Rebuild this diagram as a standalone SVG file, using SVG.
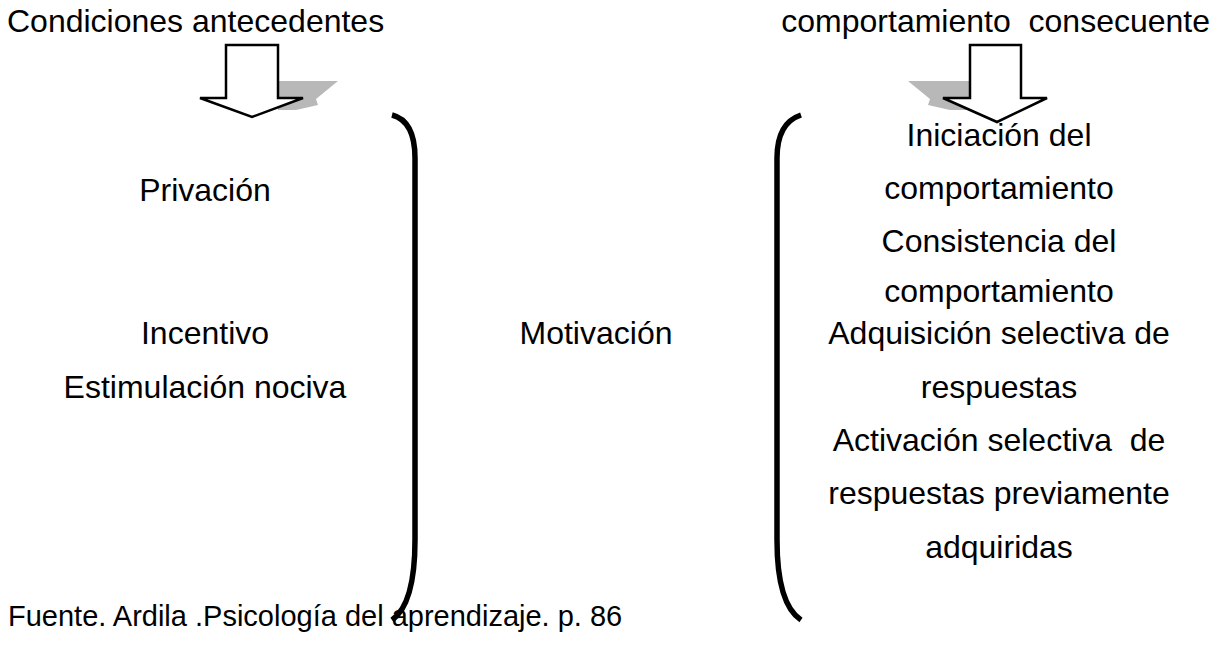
<svg xmlns="http://www.w3.org/2000/svg" width="1217" height="645" viewBox="0 0 1217 645">
<style>
text{font-family:"Liberation Sans",Arial,sans-serif;font-size:32px;fill:#000}
.c{text-anchor:middle}
.src{font-size:29px}
.arrow{fill:#fff;stroke:#000;stroke-width:2.5;stroke-linejoin:miter}
.shadow{fill:#b8b8b8}
.br{fill:none;stroke:#000;stroke-width:5.5;stroke-linecap:butt}
</style>
<rect width="1217" height="645" fill="#fff"/>
<g id="title-left"><text x="7" y="32">Condiciones antecedentes</text></g>
<g id="title-right"><text x="1210" y="32" text-anchor="end" xml:space="preserve">comportamiento  consecuente</text></g>
<g id="connectors">
<g id="arrow-left">
<polygon class="shadow" points="278,81 338,81 316,99 318,105 296,110 278,110"/>
<polygon class="arrow" points="226,45 278,45 278,98 303,98 252,117 200,98 226,98"/>
</g>
<g id="arrow-right">
<polygon class="shadow" points="971,81 908,81 930,99 928,105 950,110 971,110"/>
<polygon class="arrow" points="970,45 1021,45 1021,98 1047,98 997,122 943,98 970,98"/>
</g>
<path id="bracket-left" class="br" d="M392,115 Q415,121 415,158 L415,540 Q415,604 392,620"/>
<path id="bracket-right" class="br" d="M801,115 Q777,123 777,158 L777,540 Q777,604 801,620"/>
</g>
<g id="antecedents">
<text class="c" x="205" y="201">Privación</text>
<text class="c" x="205" y="344">Incentivo</text>
<text class="c" x="205" y="398">Estimulación nociva</text>
</g>
<g id="motivacion"><text class="c" x="596" y="344">Motivación</text></g>
<g id="consequences">
<text class="c" x="999" y="146">Iniciación del</text>
<text class="c" x="999" y="199">comportamiento</text>
<text class="c" x="999" y="252">Consistencia del</text>
<text class="c" x="999" y="302">comportamiento</text>
<text class="c" x="999" y="344">Adquisición selectiva de</text>
<text class="c" x="999" y="398">respuestas</text>
<text class="c" x="999" y="451" xml:space="preserve">Activación selectiva  de</text>
<text class="c" x="999" y="504">respuestas previamente</text>
<text class="c" x="999" y="558">adquiridas</text>
</g>
<g id="source"><text class="src" x="8" y="626">Fuente. Ardila .Psicología del aprendizaje. p. 86</text></g>
</svg>
